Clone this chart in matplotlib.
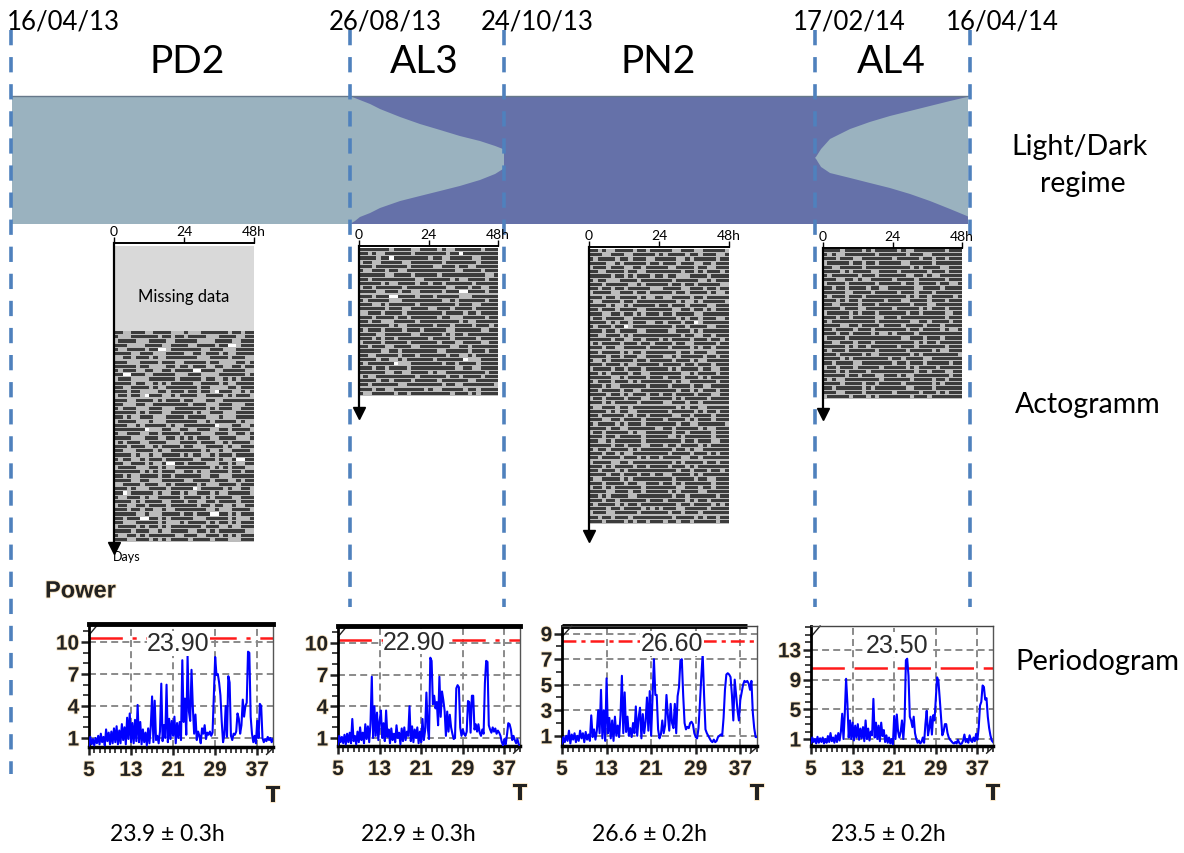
import numpy as np
import matplotlib
matplotlib.use("Agg")
import matplotlib.pyplot as plt
from matplotlib.colors import ListedColormap
from matplotlib.patches import Rectangle
from matplotlib.ticker import MultipleLocator
import matplotlib.patheffects as pe

plt.rcParams['font.family'] = ['Lato', 'DejaVu Sans']
plt.rcParams['lines.scale_dashes'] = False

W, H = 1184, 854

# ---------------- data ----------------
period_labels = ["PD2", "AL3", "PN2", "AL4"]
period_dates = ["16/04/13", "26/08/13", "24/10/13", "17/02/14", "16/04/14"]
boundary_days = [0, 132, 191, 307, 365]
tau_text = ["23.9 \u00b1 0.3h", "22.9 \u00b1 0.3h", "26.6 \u00b1 0.2h", "23.5 \u00b1 0.2h"]
peak_labels = ["23.90", "22.90", "26.60", "23.50"]
peak_pos = [(22.0, 9.9), (19.7, 10.1), (24.7, 8.25), (21.6, 13.7)]
significance = [10.4, 10.3, 8.4, 10.6]

# light/dark regime: days since 16/04/13, light on / off hour (nan = no light)
nan = np.nan
ld_days = [0, 132, 133.9, 135.8, 139.7, 143.5, 151.2, 158.8, 166.5, 174.1, 181.8, 187.6, 190.6, 191,
           191.01,
           307, 307.4, 308.1, 309.3, 312.7, 320.3, 327.8, 335.4, 343, 350.6, 358.2, 364.6, 365]
ld_on = [0, 0, 0.38, 0.75, 1.5, 2.44, 3.94, 5.25, 6.37, 7.5, 8.44, 9.37, 9.94, 9.94,
         nan,
         11.6, 11.4, 10.87, 9.94, 8.06, 6.19, 4.87, 3.75, 2.81, 1.87, 0.94, 0.19, 0.1]
ld_off = [24, 24, 23.44, 22.69, 21.94, 21.0, 19.69, 18.75, 17.81, 16.87, 15.75, 14.62, 13.69, 13.69,
          nan,
          11.6, 11.8, 12.37, 13.31, 14.44, 15.37, 16.31, 17.25, 18.37, 19.69, 21.19, 22.5, 22.6]

# actograms: one string per day, 16 bins of 1.5h ('#' active, '-' rest, '.' no record)
act_pd2 = [
    "##--###--####---", "#---######-##-##", "-####---####--##", "###----####--###",
    "#--####-##..-###", "####--###---####", "--##-###-#--####", "###---####-###--",
    "#####-##----##-#", "#-###--##--##-##", "##..###--#####--", "-###----######-#",
    "####-##--#-#-###", "##--####-#--####", "###-##----##-###", "-##-##-.###--#-#",
    "###--####-#-###-", "##---##--#######", "#-###---###---##", "#####-#-###--###",
    "##-#--###---####", "-####---#---####", "###--#-#####-#--", "#######.---##--#",
    "#--###--##-####-", "####---###--##-#", "-#-###--####---#", "###-###--#-####-",
    "##---####-#--###", "####-#--#--####-", "#-##--#-###-####", "##--###-#--#..##",
    "-####---##-#--##", "######-#-#-###--", "##-#--####-##-##", "####--##---#####",
    "--####-###--#-##", "###-#---####-###", "##.-#####-#--##-", "#--###-#--#####-",
    "####-#-####--###", "-##--##-####-###", "###-##-##--#--##", "#####--#---####-",
    "##-###..##-#-###", "##---#####-#---#", "-####-#-##-#-###", "####-###--#--###",
    "#--##-#-######--", "###--###-#-#-###", "#-####-###---###",
]
act_al3 = [
    "#######-####--##", "##-#--######-###", "####-##.########", "-##--#####--####",
    "###-#######-####", "#--###-##--#####", "######--####-###", "##-##########--#",
    "#####-#--####-##", "-##-######-#####", "####--###-##--##", "###-###..####-##",
    "#-#####---######", "###--#-######-##", "######-###--####", "--###-####-#####",
    "###-####-##-####", "##-##---#####-##", "#######-#--#####", "#-###-####-###-#",
    "####--######--##", "###-#-##-#######", "-####-#####-####", "##-###--####--##",
    "#####--##-######", "##--#####-###-##", "####-##--#-#####", "#-######.---####",
    "###-##-####-####", "######--##--####", "-#--#########-##", "####-##-####-###",
    "##-######--#####", "###-##--#######-", "#--#####-##-####", "#####-###-#-####",
]
act_pn2 = [
    "##-#--####-##-##", "###--###--#####-", "#-####-##-###--#", "####--#-#####-##",
    "-###-###--##-###", "##--####-##--###", "#####-##-#-###-#", "#-##---####-####",
    "###-#####--#-###", "##-##-##-#####--", "-####--###-##-##", "###-##-####-#--#",
    "#--####-##-#####", "####-#--#-#####-", "##-###-####--###", "###--##-##-#-###",
    "-##-####--######", "####-#-##-###--#", "#-###-##.-######", "###-##-####--###",
    "##--###-#-######", "#####-##--##-###", "-#-####-###-##-#", "###-##--#####-##",
    "##-####-#-##-###", "####-##-###--###", "#--#-#####-##-##", "###-###-#--#####",
    "-####-##-###-###", "##-#-####-##--##", "#####--#-####-##", "#-###-###-#-####",
    "###-#--######-##", "##-####-##--####", "####-##-#-###-##", "-##-####-###--##",
    "###-#-#####-####", "#--###-##-######", "####-#-##--#####", "##-#####-#-##-##",
    "###--##-####-###", "#-####-#-###-###", "####-##--######-", "-##-#####-#--###",
    "###-##-#####-###", "##--#-######-###", "#####-##-###--##", "#-##-####-#-####",
    "###-##-#--######", "##-####-###-#-##", "-####--##-######", "###-#-####-##-##",
    "##-###-#-#######", "####-##-###-##-#", "#--####-#-######", "###-####-##--###",
    "-##-#-######-###", "####--###-##-###", "##-#-####--#####", "###-##-######-##",
    "#-####-#-##-####", "####-##-####-#-#", "-###--#####-####", "##-##-###-######",
    "###-####-#-##-##", "#-##-##-#####-##",
]
act_al4 = [
    "####-####-#-####", "#-#--#######-###", "###-###--#######", "-#####-##-##-###",
    "##--#####-######", "####-#-####--###", "#-######-###-###", "###--##-#--#####",
    "-####-######-###", "##-##-####-##--#", "#####--####-####", "#-###-###-######",
    "###-#-##-#####-#", "##--####-###-###", "####-###--######", "-#####-#-###-###",
    "###-##-#####--##", "#-##########-###", "####--##-####-##", "##-####-###-####",
    "###-##-####-#--#", "-####-##########", "##--###-###-####", "#####-#-##-#####",
    "#-###-######-###", "###-#####-#--###", "####-#-########-", "##-####--#######",
    "-##-###-#####-##", "###-#-####-#####", "#####-##-###--##", "#-#--########-##",
    "####-####-##-###", "##-######-#-####", "###--####-######", "-#####-###-#-###",
    "####-###-#######",
]
act_days = [act_pd2, act_al3, act_pn2, act_al4]

# periodograms: power for periods 5.00, 5.25, ... 40.00 h
pow_pd2 = [
    0.3, 1.1, 0.4, 0.9, 0.3, 1.0, 0.5, 1.2, 0.4, 1.4, 0.6, 1.1, 0.3, 1.8, 0.7, 1.5,
    0.4, 1.6, 0.5, 1.9, 0.6, 2.1, 0.4, 1.7, 0.5, 2.3, 0.8, 2.0, 0.4, 2.9, 0.9, 3.3,
    0.6, 2.4, 0.5, 2.7, 0.7, 4.1, 0.6, 2.5, 0.4, 1.8, 0.6, 1.5, 0.3, 1.9, 0.5, 2.1,
    4.9, 0.6, 4.5, 0.8, 1.2, 0.5, 1.6, 6.1, 0.7, 2.2, 1.0, 6.0, 0.6, 2.8, 0.9, 2.6,
    1.2, 3.0, 0.5, 2.4, 1.0, 2.5, 0.8, 8.3, 2.5, 4.7, 1.3, 8.7, 3.5, 2.6, 7.4, 3.9,
    1.4, 3.2, 0.8, 1.6, 1.2, 0.5, 1.9, 1.4, 2.2, 0.9, 1.5, 1.3, 1.6, 1.2, 1.5, 5.0,
    8.6, 6.9, 7.0, 6.2, 5.0, 2.5, 0.6, 1.3, 4.0, 1.1, 6.8, 6.2, 1.2, 0.8, 1.4, 1.3,
    1.6, 3.3, 2.8, 1.4, 2.2, 4.6, 3.0, 4.0, 4.3, 9.1, 9.0, 3.0, 1.4, 0.6, 1.2, 0.5,
    2.6, 1.0, 4.2, 4.0, 1.0, 0.6, 0.9, 0.7, 1.1, 0.8, 1.0, 0.6, 0.9,
]
pow_al3 = [
    0.4, 1.2, 0.6, 1.1, 0.5, 1.3, 0.4, 1.4, 0.6, 1.5, 0.5, 2.8, 0.7, 1.2, 0.4, 1.6,
    0.6, 2.0, 0.8, 1.5, 0.5, 2.3, 0.9, 2.1, 0.6, 2.4, 6.8, 1.0, 4.0, 1.2, 3.4, 0.8,
    2.6, 3.6, 1.0, 2.4, 0.7, 3.6, 1.1, 1.8, 0.5, 1.9, 0.8, 1.4, 0.6, 2.2, 1.0, 1.5,
    0.4, 1.9, 0.7, 2.0, 0.8, 1.6, 1.2, 4.0, 0.7, 2.1, 0.6, 1.8, 1.0, 2.0, 0.5, 1.6,
    0.6, 2.8, 0.8, 1.7, 5.3, 2.0, 0.9, 8.6, 8.3, 4.2, 5.0, 3.8, 4.4, 2.2, 6.8, 3.0,
    5.4, 4.6, 3.6, 1.2, 3.5, 1.6, 3.2, 2.0, 1.4, 0.9, 1.0, 5.7, 6.0, 5.8, 2.0, 1.2,
    1.8, 1.4, 1.2, 1.6, 4.5, 4.4, 1.5, 5.0, 5.0, 1.8, 2.3, 1.6, 2.3, 1.5, 1.2, 1.8,
    1.4, 6.2, 8.3, 8.2, 2.2, 1.8, 1.5, 2.0, 1.6, 1.9, 1.4, 1.7, 1.5, 1.2, 0.6, 0.3,
    0.9, 0.4, 1.3, 2.4, 2.3, 1.8, 0.8, 1.2, 0.8, 0.5, 0.9, 0.4, 0.3,
]
pow_pn2 = [
    0.4, 0.9, 0.5, 1.0, 0.6, 1.4, 0.4, 1.1, 0.7, 1.2, 0.5, 1.0, 0.6, 1.4, 0.8, 1.2,
    0.5, 1.3, 0.7, 1.1, 0.6, 2.6, 0.9, 1.5, 0.7, 1.4, 3.0, 1.2, 4.6, 0.8, 3.0, 0.6,
    5.5, 1.2, 2.4, 0.8, 2.2, 0.6, 2.5, 1.0, 1.8, 0.9, 2.6, 5.7, 1.2, 4.4, 1.3, 2.5,
    1.0, 1.6, 0.9, 2.0, 1.2, 3.3, 1.0, 2.4, 3.2, 0.8, 2.7, 1.2, 2.1, 4.0, 1.4, 4.5,
    1.0, 3.9, 7.0, 4.2, 4.2, 1.5, 0.8, 1.1, 2.2, 1.2, 1.8, 4.2, 2.6, 1.4, 3.5, 2.0,
    1.6, 3.5, 1.2, 4.1, 4.8, 6.9, 7.0, 4.2, 2.0, 1.5, 1.7, 1.6, 2.0, 2.1, 1.9, 1.2,
    0.9, 0.8, 1.6, 3.5, 5.6, 7.4, 4.2, 1.5, 1.2, 1.0, 0.8, 0.6, 0.5, 0.7, 0.5, 0.6,
    0.9, 1.0, 1.1, 1.0, 2.4, 4.6, 5.8, 5.9, 5.8, 5.6, 4.2, 2.2, 5.4, 4.2, 3.0, 2.2,
    3.8, 4.4, 5.0, 5.3, 5.2, 5.3, 5.1, 4.6, 5.3, 2.8, 1.6, 0.9, 0.9,
]
pow_al4 = [
    0.5, 1.2, 0.6, 1.0, 0.4, 1.3, 0.5, 1.1, 0.6, 1.2, 0.4, 1.0, 0.5, 1.4, 0.6, 1.8,
    0.7, 1.2, 0.5, 1.5, 0.6, 1.8, 0.8, 2.0, 4.4, 1.0, 4.5, 9.1, 5.8, 1.2, 3.5, 1.0,
    3.2, 0.8, 2.8, 1.2, 3.0, 0.9, 2.4, 1.1, 2.6, 0.7, 3.5, 1.0, 2.4, 0.8, 2.0, 1.5,
    6.4, 1.2, 3.2, 1.0, 2.8, 0.7, 3.2, 1.4, 2.2, 0.6, 1.5, 0.5, 1.2, 0.4, 1.0, 0.3,
    4.1, 1.0, 4.3, 2.0, 1.2, 2.0, 3.5, 1.0, 3.5, 11.6, 11.8, 9.5, 4.0, 3.5, 2.6, 4.0,
    1.8, 1.0, 0.5, 0.8, 0.4, 0.6, 1.2, 0.5, 3.0, 4.8, 1.5, 2.5, 4.0, 1.6, 4.2, 3.5,
    6.3, 9.3, 8.8, 6.5, 4.0, 1.5, 2.0, 3.0, 3.0, 1.8, 1.2, 0.9, 0.7, 0.5, 0.4, 0.6,
    0.4, 0.9, 0.5, 0.3, 0.4, 0.8, 1.6, 0.6, 1.0, 0.5, 1.5, 0.8, 0.6, 1.2, 0.7, 1.7,
    0.9, 2.5, 5.5, 6.0, 8.2, 8.0, 6.3, 6.5, 4.0, 2.5, 1.5, 0.8, 0.6,
]
powers = [pow_pd2, pow_al3, pow_pn2, pow_al4]
pg_yticks = [[1, 4, 7, 10], [1, 4, 7, 10], [1, 3, 5, 7, 9], [1, 5, 9, 13]]
pg_ylim = [(0.15, 11.7), (0.24, 11.6), (0.2, 9.6), (0.06, 16.2)]

# ---------------- layout (pixels) ----------------
band_x = [12, 350, 504, 815, 968]
band_top, band_bot = 97, 225
line_x = [10.5, 350, 504, 815, 970]
line_end = [775, 608, 608, 608, 608]
# (0h x, 48h x, axis y, data top, data bottom, arrow tip)
act_box = [(114, 254, 244, 332, 543, 549), (359, 498, 247, 249, 397, 414),
           (589, 729, 248, 250, 525, 537), (823, 962, 249, 250, 400, 415)]
pg_box = [(89, 273, 625, 748), (338, 520, 627, 747), (562, 757, 627, 747), (811, 993, 627, 747)]

fig = plt.figure(figsize=(W / 100, H / 100), dpi=100)
ax = fig.add_axes([0, 0, 1, 1])
ax.set_xlim(0, W)
ax.set_ylim(H, 0)
ax.axis("off")

# light / dark band
ax.add_patch(Rectangle((band_x[0], band_top), band_x[-1] - band_x[0], band_bot - band_top,
                       color="#6571a9", lw=0, zorder=1))
xs = np.interp(ld_days, boundary_days, band_x)
y_on = band_top + np.array(ld_on) / 24 * (band_bot - band_top)
y_off = band_top + np.array(ld_off) / 24 * (band_bot - band_top)
ax.fill_between(xs, y_on, y_off, color="#9ab2bf", lw=0, zorder=2)
ax.plot([band_x[0], band_x[-1]], [band_top, band_top], color="#66788a", lw=1, zorder=3)

# dashed separators
for x, y1 in zip(line_x, line_end):
    ax.plot([x, x], [31, y1], color="#4f81bd", lw=2.6, ls=(0, (11, 8.5)), zorder=6)

# header text
date_x = [63, 385, 537, 849, 1002]
for x, s in zip(date_x, period_dates):
    ax.text(x, 22, s, fontsize=18.5, ha="center", va="center")
title_x = [187, 424, 658, 891]
for x, s in zip(title_x, period_labels):
    ax.text(x, 62, s, fontsize=28, ha="center", va="center")

ax.text(1080, 147, "Light/Dark", fontsize=20.5, ha="center", va="center")
ax.text(1083, 184, "regime", fontsize=20.5, ha="center", va="center")
ax.text(1088, 405, "Actogramm", fontsize=20.5, ha="center", va="center")
ax.text(1097, 662, "Periodogram", fontsize=21, ha="center", va="center")

tau_x = [167, 418, 650, 888]
for x, s in zip(tau_x, tau_text):
    ax.text(x, 835, s, fontsize=16.5, ha="center", va="center")

halo = [pe.withStroke(linewidth=1.2, foreground="#f8e2bd")]
ax.text(45, 592, "Power", fontsize=17, fontweight="bold", family="Liberation Sans",
        color="#222222", ha="left", va="center", path_effects=halo)
ax.text(113, 557, "Days", fontsize=9, ha="left", va="center")

# actograms (double plotted, each day drawn as a bar with a thin gap below)
act_cmap = ListedColormap(["#ffffff", "#bcbcbc", "#3c3c3c"])
code = {".": 0, "-": 1, "#": 2}
for i, (days, (x0, x1, ya, yt, yb, ytip)) in enumerate(zip(act_days, act_box)):
    a = fig.add_axes([x0 / W, 1 - ytip / H, (x1 - x0) / W, (ytip - ya) / H])
    a.set_facecolor("none")
    days = [(d + "-" * 16)[:16] for d in days]
    rows = []
    for d1, d2 in zip(days[:-1], days[1:]):
        r = [code[c] for c in d1 + d2]
        rows += [r, r, r, [1] * 32]
    a.imshow(np.array(rows), cmap=act_cmap, vmin=0, vmax=2, extent=(0, 48, yb - ya, yt - ya),
             aspect="auto", interpolation="nearest")
    if i == 0:
        a.add_patch(Rectangle((0.4, 3), 47.6, yt - ya - 3, color="#d9d9d9", lw=0))
        a.text(24, 297 - ya, "Missing data", fontsize=12, ha="center", va="center")
    a.set_xlim(0, 48)
    a.set_ylim(ytip - ya, 0)
    for side in ["right", "bottom"]:
        a.spines[side].set_visible(False)
    a.spines["top"].set_linewidth(1.4)
    a.spines["left"].set_linewidth(1.6)
    a.xaxis.tick_top()
    a.set_xticks([0, 24, 48])
    a.set_xticklabels(["0", "24", "48h"])
    a.set_yticks([])
    a.tick_params(axis="x", direction="out", length=4, width=1, labelsize=10, pad=0.5)
    a.plot([0], [ytip - ya], marker="v", color="k", ms=8, clip_on=False)

# periodograms
red_styles = [(0, (24, 7, 3, 7)), (0, (24, 7, 3, 7)), (0, (10, 3.6, 3, 3.6)), (0, (24, 7))]
for i, (pw, (x0, x1, y0, y1)) in enumerate(zip(powers, pg_box)):
    a = fig.add_axes([x0 / W, 1 - y1 / H, (x1 - x0) / W, (y1 - y0) / H])
    periods = 5 + 0.25 * np.arange(len(pw))
    a.set_axisbelow(True)
    a.grid(True, which="major", color="#8a8a8a", ls=(0, (5, 3)), lw=1.4)
    a.plot(periods, pw, color="#0000ff", lw=1.5, zorder=3)
    a.axhline(significance[i], color="#ff1a1a", lw=1.8, ls=red_styles[i], zorder=2)
    px, py = peak_pos[i]
    a.text(px, py, peak_labels[i], fontsize=18, color="#2b2b2b", ha="center", va="center",
           family="Liberation Sans", zorder=5,
           bbox=dict(facecolor="white", edgecolor="none", pad=0.3))
    a.set_xlim(5, 40)
    a.set_ylim(*pg_ylim[i])
    a.set_xticks([5, 13, 21, 29, 37])
    a.set_yticks(pg_yticks[i])
    a.xaxis.set_minor_locator(MultipleLocator(1))
    a.yaxis.set_minor_locator(MultipleLocator(1))
    a.tick_params(which="major", length=6, width=1.8, color="#222222", labelsize=15, pad=1)
    a.tick_params(which="minor", length=4, width=1.2, color="#222222")
    a.tick_params(axis="x", which="major", pad=4)
    for lbl in a.get_xticklabels() + a.get_yticklabels():
        lbl.set_fontweight("bold")
        lbl.set_family("Liberation Sans")
        lbl.set_color("#222222")
        lbl.set_path_effects(halo)
    a.spines["left"].set_linewidth(2)
    a.spines["bottom"].set_linewidth(2.5)
    a.spines["right"].set_linewidth(1)
    a.spines["right"].set_color("#555555")
    if i < 2:
        a.spines["top"].set_linewidth(3.5)
        a.spines["top"].set_color("black")
    else:
        a.spines["top"].set_linewidth(1)
        a.spines["top"].set_color("#444444")
    if i == 2:
        a.plot([0, 0.95], [1.0, 1.0], transform=a.transAxes, color="black", lw=3.5,
               clip_on=False, solid_capstyle="butt")
    # small corner marks of the original plotting program
    a.plot([0, 0.05], [0.91, 1.0], transform=a.transAxes, color="#222222", lw=1, clip_on=False)
    a.plot([0.965, 1.0], [-0.06, -0.01], transform=a.transAxes, color="#222222", lw=1,
           clip_on=False)
    a.text(1.0, -0.4, "T", transform=a.transAxes, fontsize=16, fontweight="bold",
           family="Liberation Sans", color="#222222", ha="center", va="center",
           path_effects=halo)

fig.savefig("out.png", dpi=100)
